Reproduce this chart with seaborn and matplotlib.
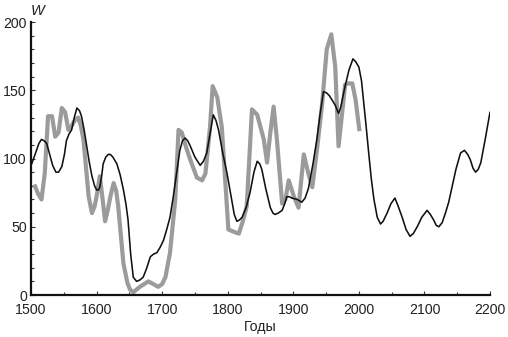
import matplotlib
matplotlib.use("Agg")
import matplotlib.pyplot as plt
from matplotlib.ticker import MultipleLocator
import pandas as pd
import seaborn as sns

# Model curve (black), 1500-2200
model_years = [1501, 1507, 1512, 1516, 1520, 1524, 1528, 1533, 1538, 1542, 1547,
               1551, 1554, 1558, 1562, 1566, 1570, 1574, 1577, 1581, 1585, 1589,
               1593, 1597, 1600, 1603, 1605, 1608, 1610, 1614, 1618, 1621, 1625,
               1631, 1636, 1641, 1645, 1648, 1652, 1656, 1661, 1666, 1671, 1676,
               1682, 1687, 1692, 1697, 1702, 1707, 1712, 1717, 1722, 1727, 1731,
               1735, 1739, 1743, 1750, 1758, 1763, 1768, 1773, 1778, 1782, 1786,
               1792, 1799, 1806, 1810, 1814, 1818, 1822, 1828, 1834, 1840, 1845,
               1849, 1852, 1858, 1865, 1869, 1872, 1877, 1883, 1887, 1890, 1894,
               1898, 1906, 1913, 1918, 1923, 1930, 1936, 1941, 1946, 1951, 1955,
               1959, 1964, 1969, 1972, 1976, 1979, 1985, 1991, 1995, 2000, 2004,
               2007, 2011, 2015, 2019, 2023, 2028, 2033, 2037, 2043, 2049, 2055,
               2060, 2066, 2072, 2078, 2083, 2089, 2096, 2104, 2109, 2114, 2118,
               2122, 2127, 2132, 2137, 2142, 2148, 2155, 2161, 2166, 2170, 2174,
               2178, 2182, 2186, 2193, 2200]
model_values = [96, 104, 111, 114, 113, 111, 104, 95, 90, 90, 94,
                103, 113, 118, 121, 130, 137, 135, 131, 121, 109, 97,
                87, 80, 77, 77, 79, 88, 96, 101, 103, 103, 101,
                96, 88, 77, 66, 55, 30, 13, 10, 11, 13, 19,
                28, 30, 31, 35, 40, 48, 57, 72, 89, 106, 113,
                115, 113, 109, 101, 95, 98, 104, 118, 132, 128, 121,
                105, 89, 70, 59, 54, 55, 57, 64, 75, 90, 98,
                96, 92, 78, 64, 60, 59, 60, 62, 67, 72, 72,
                71, 70, 68, 71, 78, 96, 114, 133, 149, 148, 146,
                143, 139, 133, 137, 146, 153, 165, 173, 171, 167, 157,
                143, 124, 104, 85, 70, 57, 52, 54, 60, 67, 71,
                65, 57, 48, 43, 45, 50, 57, 62, 59, 55, 51,
                50, 53, 60, 68, 79, 92, 104, 106, 103, 99, 93,
                90, 92, 97, 115, 134]

# Observed series (grey), 1505-2000
obs_years = [1505, 1511, 1516, 1521, 1526, 1532, 1537, 1542, 1547, 1552, 1557,
             1562, 1567, 1572, 1576, 1580, 1588, 1593, 1597, 1600, 1605, 1610,
             1613, 1617, 1621, 1626, 1630, 1633, 1641, 1647, 1651, 1656, 1666,
             1679, 1694, 1700, 1705, 1712, 1720, 1725, 1730, 1736, 1743, 1753,
             1761, 1766, 1773, 1777, 1784, 1791, 1801, 1811, 1817, 1823, 1829,
             1837, 1845, 1855, 1860, 1865, 1870, 1875, 1883, 1888, 1893, 1901,
             1908, 1916, 1923, 1929, 1936, 1944, 1951, 1958, 1964, 1969, 1974,
             1979, 1983, 1990, 1995, 2001]
obs_values = [81, 74, 70, 89, 131, 131, 116, 119, 137, 134, 121,
              124, 128, 130, 124, 114, 72, 60, 65, 72, 87, 67,
              54, 62, 72, 82, 76, 65, 23, 9, 4, 2, 6,
              10, 6, 8, 13, 31, 70, 121, 119, 109, 99, 86,
              84, 89, 123, 153, 145, 123, 48, 46, 45, 54, 65,
              136, 132, 114, 97, 119, 138, 114, 67, 70, 84,
              72, 64, 103, 89, 79, 106, 140, 180, 191, 167, 109,
              131, 154, 155, 155, 143, 120]

x_ticks = [1500, 1600, 1700, 1800, 1900, 2000, 2100, 2200]
y_ticks = [0, 50, 100, 150, 200]

model_df = pd.DataFrame({"year": model_years, "w": model_values})
obs_df = pd.DataFrame({"year": obs_years, "w": obs_values})

sns.set_style("ticks")
plt.rcParams["font.family"] = ["Liberation Sans", "DejaVu Sans"]

fig = plt.figure(figsize=(5.08, 3.37), dpi=100)
ax = fig.add_axes([0.061, 0.1246, 0.9036, 0.8101])

sns.lineplot(data=obs_df, x="year", y="w", ax=ax, color="#9b9b9b",
             linewidth=3.0, solid_joinstyle="round", solid_capstyle="butt",
             zorder=2)
sns.lineplot(data=model_df, x="year", y="w", ax=ax, color="#111111",
             linewidth=1.15, solid_joinstyle="round", zorder=3)

ax.set_xlim(1500, 2200)
ax.set_ylim(0, 200)
ax.set_xticks(x_ticks)
ax.set_yticks(y_ticks)
ax.xaxis.set_minor_locator(MultipleLocator(50))
ax.yaxis.set_minor_locator(MultipleLocator(10))

for side in ("top", "right"):
    ax.spines[side].set_visible(False)
for side in ("left", "bottom"):
    ax.spines[side].set_linewidth(1.6)
    ax.spines[side].set_color("#111111")

ax.tick_params(axis="both", which="both", direction="in", color="#333333",
               width=0.8, labelsize=10.2, labelcolor="#222222")
ax.tick_params(axis="both", which="major", length=3)
ax.tick_params(axis="both", which="minor", length=2.5)
ax.tick_params(axis="x", which="major", pad=6)
ax.tick_params(axis="y", which="major", pad=3)

ax.set_xlabel("Годы", fontsize=10.2, color="#222222", labelpad=2)
ax.set_ylabel("")
ax.text(0.0, 1.015, "W", transform=ax.transAxes, fontsize=10.5,
        style="italic", color="#222222", ha="left", va="bottom")

fig.savefig("out.png", dpi=100)
